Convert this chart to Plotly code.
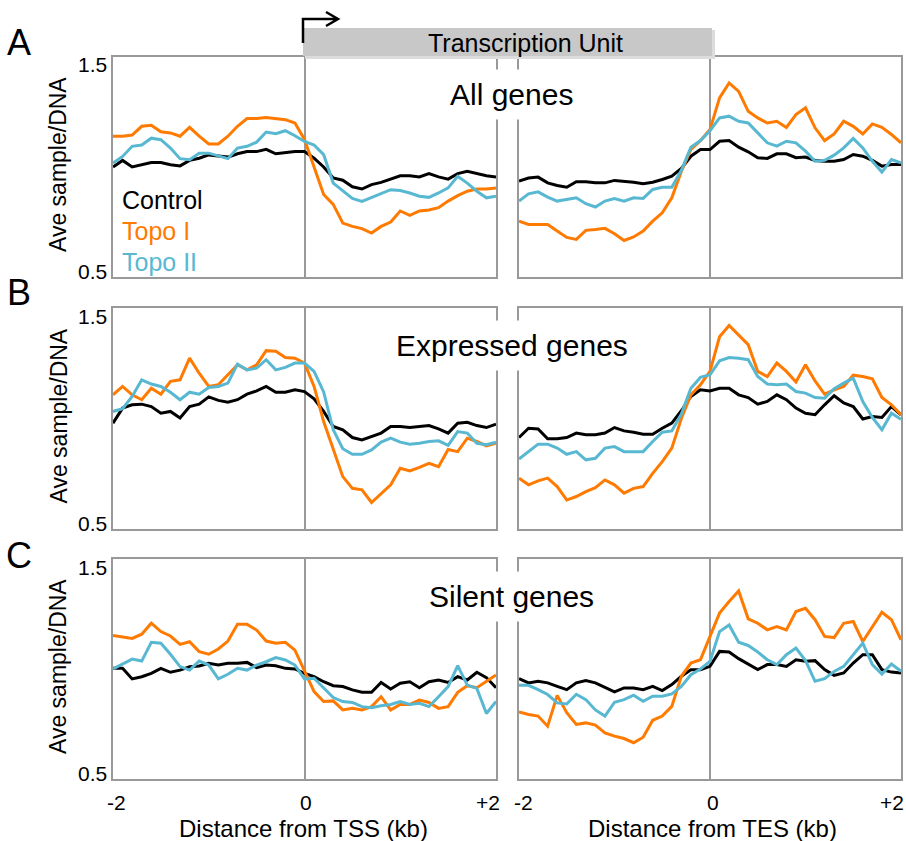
import plotly.graph_objects as go

W, H = 906, 841
FONT = "Liberation Sans, Arial, Helvetica, sans-serif"

# ---------------- data ----------------
DIST_KB = [-2.0, -1.9, -1.8, -1.7, -1.6, -1.5, -1.4, -1.3, -1.2, -1.1, -1.0,
           -0.9, -0.8, -0.7, -0.6, -0.5, -0.4, -0.3, -0.2, -0.1, 0.0,
           0.1, 0.2, 0.3, 0.4, 0.5, 0.6, 0.7, 0.8, 0.9, 1.0,
           1.1, 1.2, 1.3, 1.4, 1.5, 1.6, 1.7, 1.8, 1.9, 2.0]

SERIES = ["Control", "Topo I", "Topo II"]
COLORS = ["#000000", "#ff7a00", "#58b8d2"]

# All genes, around TSS
A_TSS_CONTROL = [1.00, 1.03, 1.00, 1.01, 1.02, 1.02, 1.01, 1.005, 1.03, 1.04, 1.055, 1.05, 1.045, 1.06, 1.07, 1.07, 1.08, 1.06, 1.065, 1.07, 1.07, 1.04, 1.00, 0.95, 0.94, 0.91, 0.90, 0.92, 0.93, 0.945, 0.96, 0.96, 0.955, 0.97, 0.955, 0.945, 0.97, 0.98, 0.97, 0.96, 0.955]
A_TSS_TOPO1 = [1.14, 1.14, 1.145, 1.185, 1.19, 1.16, 1.155, 1.14, 1.18, 1.14, 1.105, 1.105, 1.14, 1.185, 1.22, 1.22, 1.225, 1.22, 1.215, 1.20, 1.125, 1.00, 0.875, 0.83, 0.745, 0.73, 0.72, 0.70, 0.73, 0.75, 0.80, 0.78, 0.80, 0.805, 0.815, 0.845, 0.87, 0.89, 0.90, 0.90, 0.905]
A_TSS_TOPO2 = [1.018, 1.048, 1.094, 1.10, 1.131, 1.124, 1.086, 1.038, 1.033, 1.063, 1.063, 1.05, 1.038, 1.086, 1.094, 1.113, 1.159, 1.151, 1.165, 1.142, 1.116, 1.10, 1.056, 0.927, 0.89, 0.857, 0.844, 0.862, 0.882, 0.897, 0.893, 0.882, 0.867, 0.862, 0.882, 0.905, 0.958, 0.927, 0.89, 0.86, 0.867]
# All genes, around TES
A_TES_CONTROL = [0.936, 0.95, 0.954, 0.928, 0.916, 0.908, 0.933, 0.933, 0.928, 0.928, 0.939, 0.936, 0.931, 0.924, 0.931, 0.943, 0.958, 0.993, 1.049, 1.079, 1.079, 1.117, 1.12, 1.09, 1.069, 1.042, 1.039, 1.06, 1.06, 1.042, 1.045, 1.03, 1.026, 1.026, 1.034, 1.057, 1.049, 1.03, 1.004, 1.011, 1.011]
A_TES_TOPO1 = [0.754, 0.739, 0.739, 0.739, 0.709, 0.68, 0.671, 0.712, 0.716, 0.721, 0.697, 0.666, 0.682, 0.709, 0.754, 0.792, 0.86, 0.98, 1.08, 1.12, 1.17, 1.314, 1.382, 1.344, 1.253, 1.223, 1.20, 1.208, 1.18, 1.238, 1.269, 1.178, 1.12, 1.15, 1.208, 1.185, 1.15, 1.196, 1.18, 1.148, 1.11]
A_TES_TOPO2 = [0.845, 0.878, 0.887, 0.863, 0.845, 0.853, 0.86, 0.833, 0.818, 0.845, 0.857, 0.845, 0.86, 0.857, 0.898, 0.908, 0.908, 0.985, 1.09, 1.12, 1.165, 1.223, 1.231, 1.208, 1.20, 1.155, 1.11, 1.095, 1.117, 1.11, 1.072, 1.026, 1.03, 1.054, 1.087, 1.13, 1.087, 1.026, 0.977, 1.034, 1.019]

# Expressed genes
B_TSS_CONTROL = [0.979, 1.047, 1.062, 1.065, 1.054, 1.024, 1.032, 1.002, 1.054, 1.065, 1.098, 1.082, 1.074, 1.085, 1.11, 1.125, 1.145, 1.119, 1.119, 1.13, 1.122, 1.089, 1.032, 0.964, 0.949, 0.914, 0.903, 0.918, 0.934, 0.964, 0.964, 0.959, 0.964, 0.968, 0.953, 0.934, 0.979, 0.983, 0.968, 0.959, 0.974]
B_TSS_TOPO1 = [1.107, 1.145, 1.107, 1.085, 1.137, 1.11, 1.168, 1.175, 1.273, 1.205, 1.145, 1.153, 1.198, 1.243, 1.22, 1.243, 1.307, 1.304, 1.276, 1.273, 1.251, 1.145, 0.986, 0.866, 0.737, 0.684, 0.677, 0.62, 0.662, 0.70, 0.775, 0.763, 0.779, 0.797, 0.782, 0.86, 0.85, 0.911, 0.896, 0.876, 0.888]
B_TSS_TOPO2 = [1.032, 1.044, 1.10, 1.175, 1.156, 1.145, 1.119, 1.085, 1.119, 1.11, 1.14, 1.145, 1.16, 1.246, 1.22, 1.228, 1.266, 1.22, 1.231, 1.251, 1.251, 1.213, 1.12, 0.949, 0.863, 0.838, 0.838, 0.858, 0.893, 0.911, 0.893, 0.884, 0.888, 0.896, 0.899, 0.878, 0.941, 0.934, 0.888, 0.881, 0.893]
B_TES_CONTROL = [0.914, 0.956, 0.953, 0.908, 0.908, 0.914, 0.934, 0.926, 0.926, 0.934, 0.959, 0.944, 0.938, 0.929, 0.929, 0.956, 0.979, 1.035, 1.10, 1.13, 1.125, 1.137, 1.137, 1.107, 1.095, 1.065, 1.077, 1.107, 1.085, 1.047, 1.024, 1.017, 1.062, 1.103, 1.07, 1.054, 0.998, 1.009, 1.005, 1.054, 1.017]
B_TES_TOPO1 = [0.73, 0.70, 0.718, 0.73, 0.692, 0.631, 0.647, 0.669, 0.687, 0.722, 0.70, 0.662, 0.684, 0.692, 0.752, 0.805, 0.866, 1.00, 1.107, 1.153, 1.213, 1.37, 1.421, 1.379, 1.334, 1.213, 1.19, 1.251, 1.213, 1.165, 1.243, 1.17, 1.11, 1.13, 1.145, 1.196, 1.19, 1.18, 1.095, 1.062, 1.017]
B_TES_TOPO2 = [0.817, 0.85, 0.884, 0.884, 0.866, 0.838, 0.85, 0.813, 0.82, 0.866, 0.873, 0.85, 0.85, 0.85, 0.896, 0.938, 0.944, 1.02, 1.137, 1.186, 1.198, 1.261, 1.276, 1.273, 1.266, 1.19, 1.156, 1.153, 1.156, 1.122, 1.115, 1.095, 1.092, 1.135, 1.16, 1.183, 1.077, 1.005, 0.949, 1.024, 0.997]

# Silent genes
C_TSS_CONTROL = [1.003, 1.003, 0.955, 0.965, 0.98, 1.003, 0.985, 0.995, 1.01, 1.014, 1.026, 1.018, 1.026, 1.026, 1.03, 1.006, 1.018, 1.015, 1.003, 1.0, 0.98, 0.965, 0.942, 0.924, 0.92, 0.905, 0.894, 0.894, 0.939, 0.909, 0.935, 0.942, 0.915, 0.942, 0.95, 0.939, 0.965, 0.95, 0.985, 0.961, 0.915]
C_TSS_TOPO1 = [1.152, 1.147, 1.139, 1.158, 1.208, 1.17, 1.15, 1.112, 1.124, 1.079, 1.067, 1.091, 1.127, 1.203, 1.203, 1.177, 1.127, 1.117, 1.121, 1.086, 0.995, 0.897, 0.852, 0.855, 0.814, 0.821, 0.814, 0.829, 0.874, 0.814, 0.839, 0.839, 0.859, 0.848, 0.821, 0.829, 0.894, 0.924, 0.915, 0.945, 0.973]
C_TSS_TOPO2 = [1.0, 1.021, 1.045, 1.036, 1.121, 1.117, 1.067, 1.011, 0.995, 1.036, 1.018, 0.955, 0.976, 1.003, 0.995, 1.018, 1.033, 1.052, 1.041, 1.018, 0.955, 0.958, 0.912, 0.87, 0.852, 0.848, 0.829, 0.824, 0.833, 0.839, 0.852, 0.839, 0.844, 0.829, 0.874, 0.92, 1.015, 0.927, 0.912, 0.798, 0.852]
C_TES_CONTROL = [0.956, 0.937, 0.944, 0.937, 0.921, 0.906, 0.937, 0.947, 0.937, 0.917, 0.896, 0.914, 0.914, 0.906, 0.921, 0.902, 0.929, 0.967, 0.997, 0.997, 1.012, 1.08, 1.077, 1.047, 1.02, 0.997, 1.02, 1.02, 1.012, 1.042, 1.035, 1.038, 0.997, 0.971, 0.982, 1.027, 1.065, 1.065, 0.997, 0.986, 0.982]
C_TES_TOPO1 = [0.805, 0.793, 0.786, 0.74, 0.88, 0.801, 0.748, 0.755, 0.745, 0.71, 0.695, 0.684, 0.665, 0.69, 0.767, 0.786, 0.83, 0.967, 1.027, 1.042, 1.148, 1.254, 1.307, 1.355, 1.228, 1.208, 1.178, 1.193, 1.178, 1.261, 1.276, 1.224, 1.148, 1.143, 1.208, 1.216, 1.125, 1.193, 1.258, 1.224, 1.133]
C_TES_TOPO2 = [0.926, 0.926, 0.906, 0.884, 0.846, 0.841, 0.885, 0.861, 0.814, 0.786, 0.849, 0.861, 0.881, 0.853, 0.876, 0.876, 0.887, 0.921, 0.974, 1.0, 1.035, 1.17, 1.20, 1.122, 1.107, 1.077, 1.042, 1.02, 1.065, 1.095, 1.038, 0.944, 0.956, 0.989, 1.012, 1.065, 1.118, 1.02, 0.977, 1.023, 0.99]

PANEL_LETTERS = ["A", "B", "C"]
PANEL_TITLES = ["All genes", "Expressed genes", "Silent genes"]
Y_TICK_TEXT = ["0.5", "1.5"]
X_TICK_TEXT = ["-2", "0", "+2"]
X_TITLES = ["Distance from TSS (kb)", "Distance from TES (kb)"]
Y_TITLE = "Ave sample/DNA"

PANEL_DATA = [
    [[A_TSS_CONTROL, A_TSS_TOPO1, A_TSS_TOPO2], [A_TES_CONTROL, A_TES_TOPO1, A_TES_TOPO2]],
    [[B_TSS_CONTROL, B_TSS_TOPO1, B_TSS_TOPO2], [B_TES_CONTROL, B_TES_TOPO1, B_TES_TOPO2]],
    [[C_TSS_CONTROL, C_TSS_TOPO1, C_TSS_TOPO2], [C_TES_CONTROL, C_TES_TOPO1, C_TES_TOPO2]],
]

# ---------------- layout geometry (pixels) ----------------
def px(x):
    return x / W


def py(y):
    return 1 - y / H


COL_PX = [(113, 496), (519, 901)]
ROW_PX = [(57, 277), (308, 529), (559, 779)]
FRAME = "#999999"

fig = go.Figure()
layout = dict(
    width=W, height=H, margin=dict(l=0, r=0, t=0, b=0),
    paper_bgcolor="white", plot_bgcolor="white", showlegend=False,
    font=dict(family=FONT, color="black"),
)
annotations = []

for r in range(3):
    for c in range(2):
        k = r * 2 + c + 1
        xa = "xaxis" if k == 1 else f"xaxis{k}"
        ya = "yaxis" if k == 1 else f"yaxis{k}"
        xr = "x" if k == 1 else f"x{k}"
        yr = "y" if k == 1 else f"y{k}"
        layout[xa] = dict(
            domain=[px(COL_PX[c][0]), px(COL_PX[c][1])], range=[-2, 2], anchor=yr,
            showline=True, mirror=True, linecolor=FRAME, linewidth=2,
            zeroline=True, zerolinecolor=FRAME, zerolinewidth=2,
            showgrid=False, showticklabels=False, ticks="", fixedrange=True,
        )
        layout[ya] = dict(
            domain=[py(ROW_PX[r][1]), py(ROW_PX[r][0])], range=[0.5, 1.5], anchor=xr,
            showline=True, mirror=True, linecolor=FRAME, linewidth=2,
            zeroline=False, showgrid=False, showticklabels=False, ticks="", fixedrange=True,
        )
        for name, color, vals in zip(SERIES, COLORS, PANEL_DATA[r][c]):
            fig.add_trace(go.Scatter(
                x=DIST_KB, y=vals, mode="lines", name=name,
                line=dict(color=color, width=3), xaxis=xr, yaxis=yr,
                hoverinfo="skip",
            ))
        # y tick labels on the left column
        if c == 0:
            annotations.append(dict(text=Y_TICK_TEXT[1], x=0, xref=f"{xr} domain", y=1.5, yref=yr,
                                    xanchor="right", yanchor="middle", xshift=-4, yshift=-8,
                                    showarrow=False, font=dict(size=21)))
            annotations.append(dict(text=Y_TICK_TEXT[0], x=0, xref=f"{xr} domain", y=0.5, yref=yr,
                                    xanchor="right", yanchor="middle", xshift=-4, yshift=6,
                                    showarrow=False, font=dict(size=21)))
        # x tick labels on bottom row
        if r == 2:
            shifts = [(3, 1, -8), (4, 3, -9)][c]
            for tv, tt, sh in zip([-2, 0, 2], X_TICK_TEXT, shifts):
                annotations.append(dict(text=tt, x=tv, xref=xr, y=0, yref=f"{yr} domain",
                                        xanchor="center", yanchor="middle", xshift=sh, yshift=-23,
                                        showarrow=False, font=dict(size=21)))

fig.update_layout(**layout)

# panel letters, titles, y-axis titles
letter_y = [42, 293, 555]
for r in range(3):
    annotations.append(dict(text=PANEL_LETTERS[r], x=px(19), y=py(letter_y[r]), xref="paper", yref="paper",
                            xanchor="center", yanchor="middle", showarrow=False, font=dict(size=36)))
    top = ROW_PX[r][0]
    annotations.append(dict(text=PANEL_TITLES[r], x=px(511.5), y=py(top + 37), xref="paper", yref="paper",
                            xanchor="center", yanchor="middle", showarrow=False, font=dict(size=30),
                            bgcolor="white", borderpad=8))
    annotations.append(dict(text=Y_TITLE, x=px(58), y=py((ROW_PX[r][0] + ROW_PX[r][1]) / 2 - 3),
                            xref="paper", yref="paper", xanchor="center", yanchor="middle",
                            textangle=-90, showarrow=False, font=dict(size=23)))

# legend-like labels in panel A
legend_y = [200, 231, 262]
for name, color, yy in zip(SERIES, COLORS, legend_y):
    annotations.append(dict(text=name, x=px(120), y=py(yy), xref="paper", yref="paper",
                            xanchor="left", yanchor="middle", showarrow=False,
                            font=dict(size=25, color=color)))

# x axis titles
for c, (xc) in enumerate([303, 712]):
    annotations.append(dict(text=X_TITLES[c], x=px(xc), y=py(828), xref="paper", yref="paper",
                            xanchor="center", yanchor="middle", showarrow=False, font=dict(size=24)))

# transcription unit label
annotations.append(dict(text="Transcription Unit", x=px(525.5), y=py(43), xref="paper", yref="paper",
                        xanchor="center", yanchor="middle", showarrow=False, font=dict(size=25)))

shapes = [
    dict(type="rect", xref="paper", yref="paper", x0=px(305), x1=px(715), y0=py(59), y1=py(30),
         fillcolor="#dcdcdc", line=dict(width=0), layer="above"),
    dict(type="rect", xref="paper", yref="paper", x0=px(303), x1=px(712), y0=py(56), y1=py(28),
         fillcolor="#c8c8c8", line=dict(width=0), layer="above"),
    dict(type="path", xref="paper", yref="paper",
         path=(f"M {px(303)},{py(43)} L {px(303)},{py(19)} L {px(338)},{py(19)} "
               f"M {px(326)},{py(12)} L {px(338)},{py(19)} L {px(326)},{py(26)}"),
         line=dict(color="black", width=2.5), layer="above"),
]

fig.update_layout(annotations=annotations, shapes=shapes)
fig.write_html("out.html")
